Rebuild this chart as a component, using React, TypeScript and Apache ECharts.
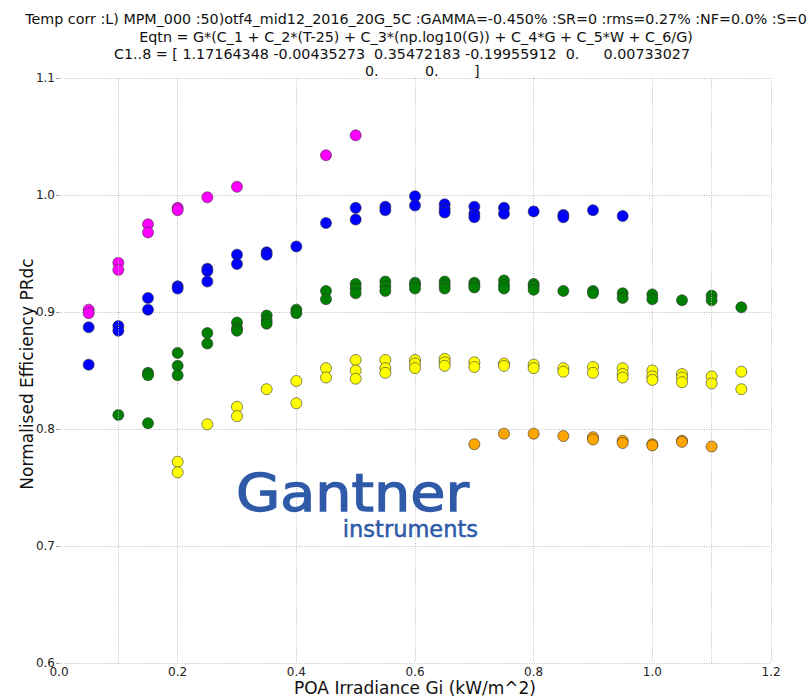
import React, { useEffect, useRef } from "react";
import * as echarts from "echarts";

type Pt = [number, number];

const magenta: Pt[] = [
  [0.05, 0.902], [0.05, 0.899], [0.1, 0.942], [0.1, 0.936], [0.15, 0.975], [0.15, 0.968],
  [0.2, 0.989], [0.2, 0.987], [0.25, 0.998], [0.3, 1.007], [0.45, 1.034], [0.5, 1.051],
];

const blue: Pt[] = [
  [0.05, 0.887], [0.05, 0.855], [0.1, 0.888], [0.1, 0.884], [0.15, 0.912], [0.15, 0.902],
  [0.2, 0.922], [0.2, 0.92], [0.25, 0.937], [0.25, 0.935], [0.25, 0.926], [0.3, 0.949],
  [0.3, 0.941], [0.35, 0.951], [0.35, 0.949], [0.4, 0.956], [0.45, 0.976], [0.5, 0.989],
  [0.5, 0.979], [0.55, 0.99], [0.55, 0.987], [0.6, 0.999], [0.6, 0.991], [0.65, 0.992],
  [0.65, 0.988], [0.65, 0.985], [0.7, 0.99], [0.7, 0.984], [0.7, 0.981], [0.75, 0.989],
  [0.75, 0.984], [0.8, 0.986], [0.85, 0.983], [0.85, 0.981], [0.9, 0.987], [0.95, 0.982],
];

const green: Pt[] = [
  [0.1, 0.812], [0.15, 0.848], [0.15, 0.846], [0.15, 0.805], [0.2, 0.865], [0.2, 0.854],
  [0.2, 0.846], [0.25, 0.882], [0.25, 0.873], [0.3, 0.891], [0.3, 0.886], [0.3, 0.884],
  [0.35, 0.897], [0.35, 0.893], [0.35, 0.89], [0.4, 0.902], [0.4, 0.899], [0.45, 0.918],
  [0.45, 0.911], [0.5, 0.924], [0.5, 0.92], [0.5, 0.916], [0.55, 0.926], [0.55, 0.922],
  [0.55, 0.918], [0.6, 0.925], [0.6, 0.923], [0.6, 0.92], [0.65, 0.926], [0.65, 0.923],
  [0.65, 0.92], [0.7, 0.925], [0.7, 0.923], [0.7, 0.921], [0.75, 0.927], [0.75, 0.923],
  [0.75, 0.92], [0.8, 0.924], [0.8, 0.922], [0.8, 0.919], [0.85, 0.918], [0.9, 0.918],
  [0.9, 0.916], [0.95, 0.916], [0.95, 0.912], [1.0, 0.915], [1.0, 0.911], [1.05, 0.91],
  [1.1, 0.914], [1.1, 0.91], [1.15, 0.904],
];

const yellow: Pt[] = [
  [0.2, 0.772], [0.2, 0.763], [0.25, 0.804], [0.3, 0.819], [0.3, 0.811], [0.35, 0.834],
  [0.4, 0.841], [0.4, 0.822], [0.45, 0.852], [0.45, 0.844], [0.5, 0.859], [0.5, 0.85],
  [0.5, 0.843], [0.55, 0.859], [0.55, 0.852], [0.55, 0.848], [0.6, 0.859], [0.6, 0.856],
  [0.6, 0.852], [0.65, 0.86], [0.65, 0.857], [0.65, 0.854], [0.7, 0.857], [0.7, 0.853],
  [0.75, 0.856], [0.75, 0.854], [0.8, 0.855], [0.8, 0.852], [0.85, 0.852], [0.85, 0.849],
  [0.9, 0.853], [0.9, 0.848], [0.95, 0.852], [0.95, 0.847], [0.95, 0.844], [1.0, 0.85],
  [1.0, 0.845], [1.0, 0.842], [1.05, 0.847], [1.05, 0.844], [1.05, 0.84], [1.1, 0.845],
  [1.1, 0.839], [1.15, 0.849], [1.15, 0.834],
];

const orange: Pt[] = [
  [0.7, 0.787], [0.75, 0.796], [0.8, 0.796], [0.85, 0.794], [0.9, 0.793], [0.9, 0.791],
  [0.95, 0.79], [0.95, 0.788], [1.0, 0.787], [1.0, 0.786], [1.05, 0.79], [1.05, 0.789],
  [1.1, 0.785],
];

const extraGridX: number[] = [0.1, 1.1];

const titleLine1 =
  "Temp corr :L) MPM_000 :50)otf4_mid12_2016_20G_5C :GAMMA=-0.450% :SR=0 :rms=0.27% :NF=0.0% :S=0";
const titleLine2 = "Eqtn = G*(C_1 + C_2*(T-25) + C_3*(np.log10(G)) + C_4*G + C_5*W + C_6/G)";
const titleLine3a = "C1..8 = [ 1.17164348 -0.00435273  0.35472183 -0.19955912  0.";
const titleLine3b = "0.00733027";
const titleLine4 = ["0.", "0.", "]"];

const xName = "POA Irradiance Gi (kW/m^2)";
const yName = "Normalised Efficiency PRdc";

const FONT = "DejaVu Sans, sans-serif";

export default function App() {
  const ref = useRef<HTMLDivElement>(null);

  useEffect(() => {
    if (!ref.current) return;
    const chart = echarts.init(ref.current, undefined, { renderer: "svg" });

    const mk = (name: string, data: Pt[], color: string) => ({
      name,
      type: "scatter",
      data,
      symbol: "circle",
      symbolSize: 11,
      itemStyle: { color, opacity: 1, borderColor: "#333", borderWidth: 0.6 },
      silent: true,
    });

    const gridLine = { show: true, lineStyle: { color: "#bdbdbd", type: [1, 1.5], width: 1 } };

    const titleStyle = { fontFamily: FONT, fontSize: 14.3, fill: "#111" };
    const nameStyle = { fontFamily: FONT, fontSize: 17, fill: "#111", align: "center", verticalAlign: "middle" };

    chart.setOption({
      animation: false,
      backgroundColor: "#fff",
      grid: { left: 59, right: 41, top: 78, bottom: 36, outerBoundsMode: "none", containLabel: false },
      xAxis: {
        type: "value",
        min: 0,
        max: 1.2,
        interval: 0.2,
        axisLine: { show: false },
        axisTick: { show: false },
        axisLabel: {
          fontFamily: FONT,
          fontSize: 12,
          color: "#222",
          margin: 3,
          formatter: (v: number) => v.toFixed(1),
        },
        splitLine: { ...gridLine, showMinLine: false },
      },
      yAxis: {
        type: "value",
        min: 0.6,
        max: 1.1,
        interval: 0.1,
        axisLine: { show: false },
        axisTick: { show: true, length: 3, lineStyle: { color: "#999" } },
        axisLabel: {
          fontFamily: FONT,
          fontSize: 12,
          color: "#222",
          margin: 4,
          formatter: (v: number) => v.toFixed(1),
        },
        splitLine: gridLine,
      },
      series: [
        {
          ...mk("magenta", magenta, "#ff00ff"),
          markLine: {
            silent: true,
            symbol: "none",
            label: { show: false },
            lineStyle: { color: "#bdbdbd", type: [1, 1.5], width: 1 },
            data: extraGridX.map((x) => ({ xAxis: x })),
          },
        },
        mk("blue", blue, "#0000ff"),
        mk("green", green, "#008000"),
        mk("yellow", yellow, "#ffff00"),
        mk("orange", orange, "#ffa500"),
      ],
      graphic: [
        { type: "text", x: 416, y: 19, style: { ...titleStyle, text: titleLine1, align: "center", verticalAlign: "middle" } },
        { type: "text", x: 416, y: 37, style: { ...titleStyle, text: titleLine2, align: "center", verticalAlign: "middle" } },
        { type: "text", x: 114, y: 54, style: { ...titleStyle, text: titleLine3a, align: "left", verticalAlign: "middle" } },
        { type: "text", x: 690, y: 54, style: { ...titleStyle, text: titleLine3b, align: "right", verticalAlign: "middle" } },
        { type: "text", x: 365, y: 71, style: { ...titleStyle, text: titleLine4[0], align: "left", verticalAlign: "middle" } },
        { type: "text", x: 425, y: 71, style: { ...titleStyle, text: titleLine4[1], align: "left", verticalAlign: "middle" } },
        { type: "text", x: 474, y: 71, style: { ...titleStyle, text: titleLine4[2], align: "left", verticalAlign: "middle" } },
        { type: "text", x: 415, y: 688, style: { ...nameStyle, text: xName } },
        { type: "text", x: 27, y: 374, rotation: Math.PI / 2, style: { ...nameStyle, text: yName } },
        {
          type: "text",
          x: 236,
          y: 493,
          scaleX: 1.1,
          z: 10,
          style: {
            text: "Gantner",
            fontFamily: FONT,
            fontSize: 52,
            fill: "#2e5aa8",
            stroke: "#2e5aa8",
            lineWidth: 1.3,
            align: "left",
            verticalAlign: "middle",
          },
        },
        {
          type: "text",
          x: 478,
          y: 529,
          z: 10,
          style: {
            text: "instruments",
            fontFamily: FONT,
            fontSize: 22.5,
            fill: "#2e5aa8",
            stroke: "#2e5aa8",
            lineWidth: 0.5,
            align: "right",
            verticalAlign: "middle",
          },
        },
      ],
    });

    return () => chart.dispose();
  }, []);

  return (
    <div
      ref={ref}
      style={{ position: "fixed", left: 0, top: 0, width: 812, height: 699, background: "#fff" }}
    />
  );
}
